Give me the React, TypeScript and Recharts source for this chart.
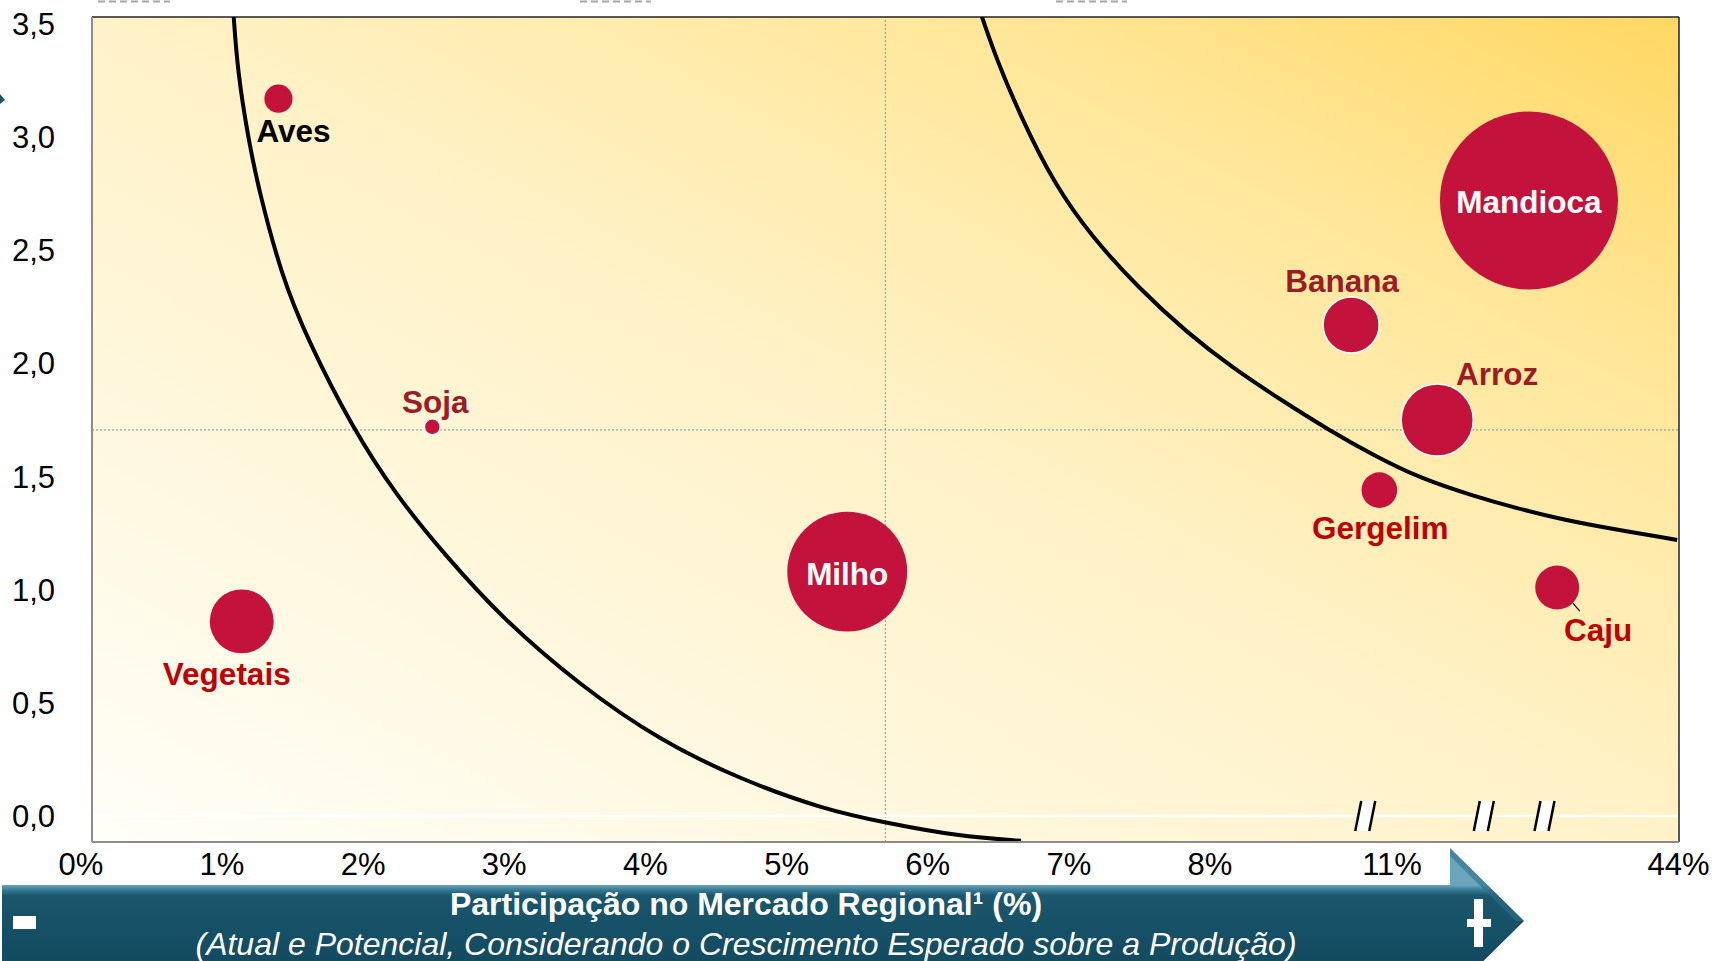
import {
  CartesianGrid,
  ComposedChart,
  Line,
  ReferenceDot,
  ReferenceLine,
  Scatter,
  XAxis,
  YAxis,
  ZAxis,
} from "recharts";

// crops: position on the (broken) x axis, expected growth, production volume
const crops = ["Aves", "Soja", "Vegetais", "Milho", "Mandioca", "Banana", "Arroz", "Gergelim", "Caju"];
const marketShare = [1.4, 2.49, 1.14, 5.43, 10.26, 9.0, 9.61, 9.2, 10.46];
const expectedGrowth = [3.17, 1.72, 0.86, 1.08, 2.72, 2.17, 1.75, 1.44, 1.01];
const productionVolume = [2.5, 0.8, 12.9, 45.4, 100, 9.9, 16.4, 4.0, 6.1];

// x axis is broken after 8%: 1 unit = 1 p.p. up to 8%
const xTickPositions = [0, 1, 2, 3, 4, 5, 6, 7, 8, 9.29, 11.32];
const xTickLabels = ["0%", "1%", "2%", "3%", "4%", "5%", "6%", "7%", "8%", "11%", "44%"];
const yTicks = [0, 0.5, 1, 1.5, 2, 2.5, 3, 3.5];
const axisBreaks = [9.1, 9.94, 10.37];

const shareMedian = 5.7;
const growthMedian = 1.706;

// iso-attractiveness curves
const innerCurveX = [1.08, 1.11, 1.19, 1.26, 1.42, 1.61, 1.92, 2.23, 2.57, 2.99, 3.53, 4.11, 4.68, 5.26, 5.7, 6.22, 6.66];
const innerCurveY = [3.56, 3.29, 2.98, 2.77, 2.39, 2.1, 1.72, 1.42, 1.16, 0.87, 0.58, 0.33, 0.16, 0.03, -0.03, -0.09, -0.11];
const outerCurveX = [6.38, 6.49, 6.66, 6.89, 7.16, 7.5, 7.83, 8.16, 8.5, 8.83, 9.17, 9.5, 9.84, 10.17, 10.5, 10.84, 11.31];
const outerCurveY = [3.54, 3.34, 3.09, 2.8, 2.56, 2.33, 2.14, 1.98, 1.84, 1.71, 1.59, 1.49, 1.42, 1.36, 1.31, 1.27, 1.22];

const X_DOMAIN: [number, number] = [0.079, 11.323];
const Y_DOMAIN: [number, number] = [-0.115, 3.531];

const FONT = '"Liberation Sans", Arial, Helvetica, sans-serif';
const BUBBLE = "#C3123C";
const DARK_RED = "#9B1C24";
const RED = "#C00000";

type LabelStyle = {
  dx: number;
  dy: number;
  color: string;
  rim?: boolean;
  leader?: boolean;
};

const LABELS: Record<string, LabelStyle> = {
  Aves: { dx: 15, dy: 32, color: "#000" },
  Soja: { dx: 3, dy: -25, color: DARK_RED, rim: true },
  Vegetais: { dx: -15, dy: 52, color: RED },
  Milho: { dx: 0, dy: 2, color: "#fff" },
  Mandioca: { dx: 0, dy: 1, color: "#fff" },
  Banana: { dx: -9, dy: -44, color: DARK_RED, rim: true },
  Arroz: { dx: 60, dy: -46, color: DARK_RED, rim: true },
  Gergelim: { dx: 1, dy: 38, color: RED },
  Caju: { dx: 41, dy: 42, color: RED, leader: true },
};

const bubbles = crops.map((name, i) => ({
  name,
  x: marketShare[i],
  y: expectedGrowth[i],
  z: productionVolume[i],
}));
const innerCurve = innerCurveX.map((x, i) => ({ x, y: innerCurveY[i] }));
const outerCurve = outerCurveX.map((x, i) => ({ x, y: outerCurveY[i] }));

function Bubble(props: any) {
  const { cx, cy, width, payload } = props;
  const r = width / 2;
  const l = LABELS[payload.name];
  const e = r * 0.71;
  return (
    <g>
      <circle
        cx={cx}
        cy={cy}
        r={r}
        fill={BUBBLE}
        stroke={l.rim ? "#fff" : "none"}
        strokeWidth={1.5}
      />
      {l.leader && (
        <line
          x1={cx + e}
          y1={cy + e}
          x2={cx + e + 7}
          y2={cy + e + 8}
          stroke="#000"
          strokeWidth={1.2}
        />
      )}
      <text
        x={cx + l.dx}
        y={cy + l.dy}
        dy="0.36em"
        textAnchor="middle"
        fontFamily={FONT}
        fontWeight={700}
        fontSize={31.5}
        fill={l.color}
      >
        {payload.name}
      </text>
    </g>
  );
}

function BreakMark(props: any) {
  const { cx, cy } = props;
  const h = 15;
  const w = 7;
  const s = 3;
  return (
    <g>
      <polygon
        points={`${cx - w + s},${cy - h} ${cx + w + s},${cy - h} ${cx + w - s},${cy + h} ${cx - w - s},${cy + h}`}
        fill="#fff"
      />
      <line x1={cx - w + s} y1={cy - h} x2={cx - w - s} y2={cy + h} stroke="#000" strokeWidth={2.5} />
      <line x1={cx + w + s} y1={cy - h} x2={cx + w - s} y2={cy + h} stroke="#000" strokeWidth={2.5} />
    </g>
  );
}

const tickStyle = { fontFamily: FONT, fontSize: 31, fill: "#000" };

export default function App() {
  return (
    <div
      style={{
        position: "absolute",
        left: 0,
        top: 0,
        width: 1716,
        height: 961,
        background: "#fff",
        overflow: "hidden",
      }}
    >
      <svg width={0} height={0} style={{ position: "absolute" }}>
        <defs>
          <linearGradient id="plotBg" x1="0" y1="1" x2="1" y2="0">
            <stop offset="0%" stopColor="#FFFEF8" />
            <stop offset="50%" stopColor="#FFF2C8" />
            <stop offset="80%" stopColor="#FFE594" />
            <stop offset="100%" stopColor="#FFD862" />
          </linearGradient>
          <linearGradient id="bannerFill" gradientUnits="userSpaceOnUse" x1="0" y1="885" x2="0" y2="961">
            <stop offset="0%" stopColor="#6AA5BE" />
            <stop offset="6%" stopColor="#3C7D98" />
            <stop offset="14%" stopColor="#1A566D" />
            <stop offset="100%" stopColor="#134B60" />
          </linearGradient>
        </defs>
      </svg>

      <ComposedChart
        width={1716}
        height={961}
        margin={{ top: 17, right: 37, bottom: 79, left: 0 }}
      >
        <CartesianGrid
          horizontal={false}
          vertical={false}
          fill="url(#plotBg)"
          fillOpacity={1}
        />
        <XAxis
          type="number"
          dataKey="x"
          domain={X_DOMAIN}
          allowDataOverflow
          ticks={xTickPositions}
          interval={0}
          tickFormatter={(v: number) => xTickLabels[xTickPositions.indexOf(v)] ?? ""}
          tick={tickStyle}
          tickLine={false}
          tickSize={0}
          tickMargin={11}
          axisLine={{ stroke: "#8C8C8C", strokeWidth: 2 }}
          height={40}
        />
        <YAxis
          type="number"
          dataKey="y"
          domain={Y_DOMAIN}
          allowDataOverflow
          ticks={yTicks}
          interval={0}
          tickFormatter={(v: number) => v.toFixed(1).replace(".", ",")}
          tick={tickStyle}
          tickLine={false}
          tickSize={0}
          tickMargin={37}
          axisLine={{ stroke: "#8C8C8C", strokeWidth: 2 }}
          width={92}
        />
        <ZAxis type="number" dataKey="z" domain={[0, 100]} range={[0, Math.PI * 89 * 89]} />

        <ReferenceLine x={shareMedian} stroke="#A0A0A0" strokeDasharray="2 2" strokeWidth={1.2} />
        <ReferenceLine y={growthMedian} stroke="#A0A0A0" strokeDasharray="2 2" strokeWidth={1.2} />
        <ReferenceLine y={0} stroke="#fff" strokeWidth={2.5} />
        <ReferenceLine y={Y_DOMAIN[1]} stroke="#222" strokeWidth={1.5} ifOverflow="visible" />
        <ReferenceLine x={X_DOMAIN[1]} stroke="#222" strokeWidth={1.5} ifOverflow="visible" />

        <Line
          data={innerCurve}
          dataKey="y"
          type="basis"
          stroke="#000"
          strokeWidth={4}
          dot={false}
          activeDot={false}
          isAnimationActive={false}
        />
        <Line
          data={outerCurve}
          dataKey="y"
          type="basis"
          stroke="#000"
          strokeWidth={4}
          dot={false}
          activeDot={false}
          isAnimationActive={false}
        />
        <Scatter data={bubbles} shape={Bubble} isAnimationActive={false} />

        {axisBreaks.map((b) => (
          <ReferenceDot key={b} x={b} y={0} r={0} shape={BreakMark} />
        ))}
      </ComposedChart>

      <svg
        width={1716}
        height={961}
        style={{ position: "absolute", left: 0, top: 0, pointerEvents: "none" }}
      >
        {/* cut-off marks along the top edge */}
        <line x1={98} y1={1.5} x2={170} y2={1.5} stroke="#A6A6A6" strokeWidth={2} strokeDasharray="7 4" />
        <line x1={580} y1={1.5} x2={651} y2={1.5} stroke="#A6A6A6" strokeWidth={2} strokeDasharray="7 4" />
        <line x1={1056} y1={1.5} x2={1127} y2={1.5} stroke="#A6A6A6" strokeWidth={2} strokeDasharray="7 4" />
        <polygon points="0,94 5,100 0,104" fill="#1A566D" />

        {/* axis banner */}
        <polygon
          points="2,885 1450,885 1450,848 1524,921 1450,994 2,994"
          fill="url(#bannerFill)"
        />
        <polygon points="1450,848 1524,921 1516,921 1450,856" fill="#2F6F89" opacity={0.6} />
        <rect x={13} y={916} width={23} height={13} fill="#fff" />
        <rect x={1474} y={899} width={9} height={48} fill="#fff" />
        <rect x={1467} y={919} width={24} height={8} fill="#fff" />
        <text
          x={746}
          y={915}
          textAnchor="middle"
          fontFamily={FONT}
          fontWeight={700}
          fontSize={32}
          fill="#fff"
        >
          Participação no Mercado Regional¹ (%)
        </text>
        <text
          x={746}
          y={955}
          textAnchor="middle"
          fontFamily={FONT}
          fontStyle="italic"
          fontSize={32}
          fill="#fff"
        >
          (Atual e Potencial, Considerando o Crescimento Esperado sobre a Produção)
        </text>
      </svg>
    </div>
  );
}
